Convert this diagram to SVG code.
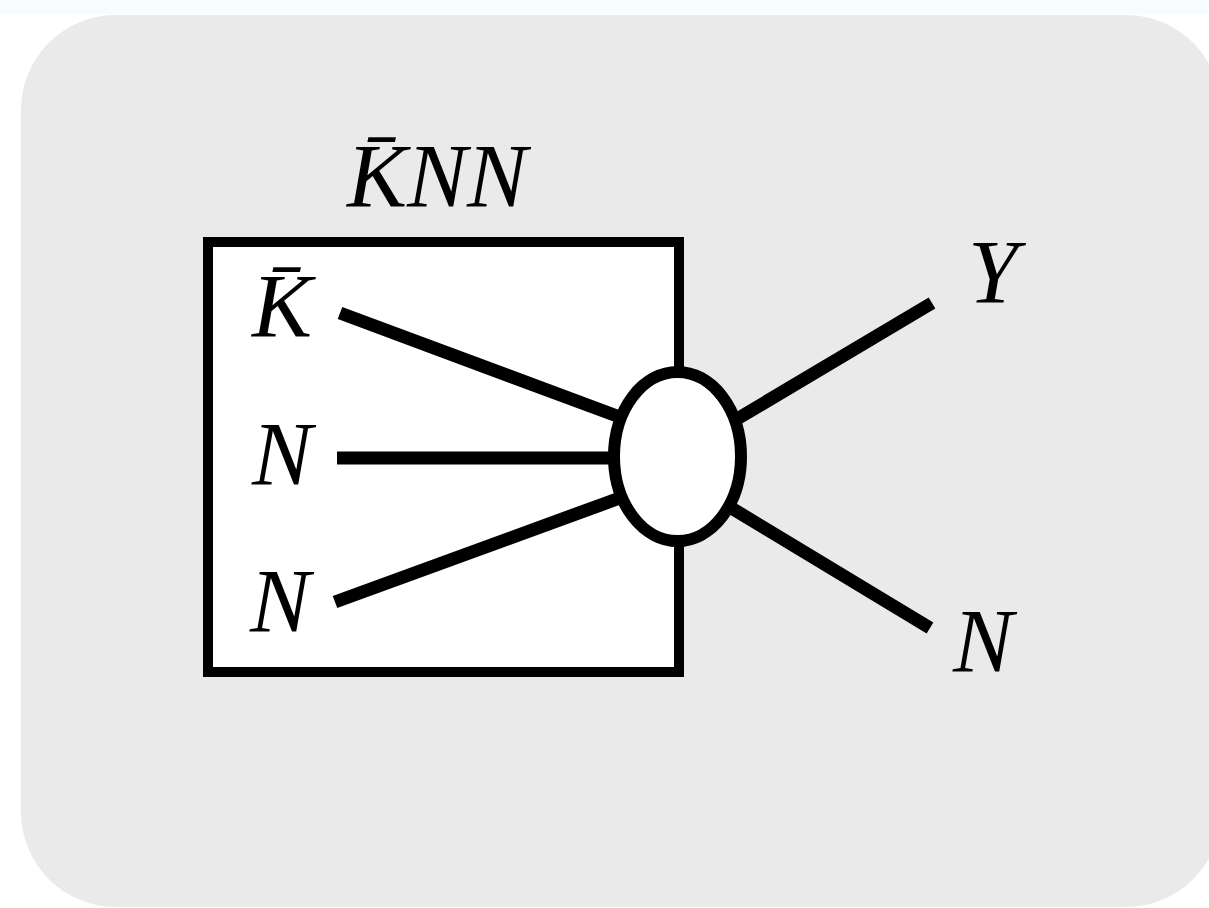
<svg xmlns="http://www.w3.org/2000/svg" width="1209" height="908" viewBox="0 0 1209 908">
<style>
.t{font-size:90px;fill:#000}
.c{stroke:#000;stroke-width:13;fill:none}
</style>
<rect x="0" y="0" width="1209" height="908" fill="#ffffff"/>
<rect x="0" y="0" width="1209" height="14" fill="#f7fdff"/>
<rect id="panel" x="21" y="15" width="1200" height="892" rx="95" ry="95" fill="#eaeaea"/>
<g id="title"><text class="t" x="347" y="207" font-family="Liberation Serif" font-style="italic">K̄NN</text></g>
<g id="box"><rect x="208" y="242" width="471" height="430" fill="#fff" stroke="#000" stroke-width="10"/></g>
<g id="label-kbar"><text class="t" x="252" y="337" font-family="Liberation Serif" font-style="italic">K̄</text></g>
<g id="label-n1"><text class="t" x="252" y="485" font-family="Liberation Serif" font-style="italic">N</text></g>
<g id="label-n2"><text class="t" x="250" y="632" font-family="Times New Roman" font-style="italic">N</text></g>
<g id="label-y"><text class="t" x="968" y="303" font-family="Liberation Serif" font-style="italic">Y</text></g>
<g id="label-n3"><text class="t" x="953" y="672" font-family="Liberation Serif" font-style="italic">N</text></g>
<g id="connectors">
<line class="c" x1="340" y1="313" x2="617" y2="416"/>
<line class="c" x1="337" y1="458" x2="612" y2="458"/>
<line class="c" x1="335" y1="602" x2="617" y2="499"/>
<line class="c" x1="737" y1="419" x2="932" y2="303"/>
<line class="c" x1="733" y1="509" x2="930" y2="628"/>
</g>
<g id="vertex"><ellipse cx="677.5" cy="456.5" rx="63.5" ry="84.5" fill="#fff" stroke="#000" stroke-width="12"/></g>
</svg>
